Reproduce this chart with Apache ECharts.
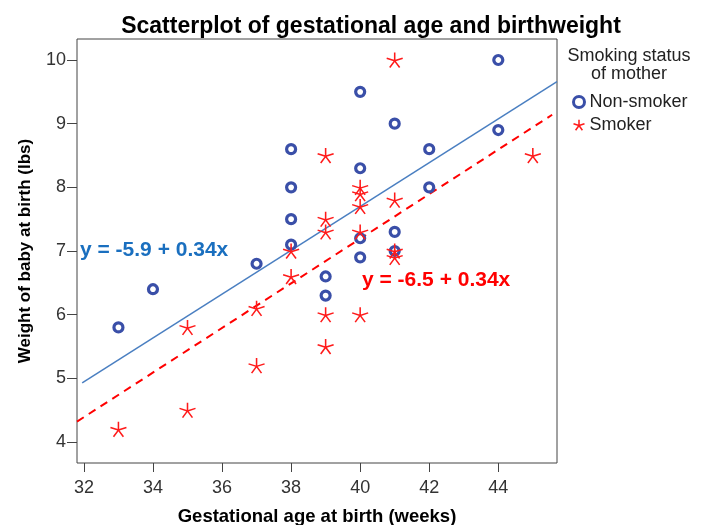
<!DOCTYPE html>
<html>
<head>
<meta charset="utf-8">
<script src="https://cdn.jsdelivr.net/npm/echarts@6/dist/echarts.min.js"></script>
<style>
  html, body { margin: 0; padding: 0; background: #fff; }
  #chart { width: 708px; height: 525px; }
</style>
</head>
<body>
<div id="chart"></div>
<script>
// data: [weeks, lbs]
var nonSmoker = [
  [33, 5.8], [34, 6.4], [37, 6.8], [38, 7.1], [38, 7.5], [38, 8.0], [38, 8.6],
  [39, 6.6], [39, 6.3], [40, 9.5], [40, 8.3], [40, 7.2], [40, 6.9],
  [41, 9.0], [41, 7.3], [41, 7.0], [42, 8.6], [42, 8.0], [44, 10.0], [44, 8.9]
]
var smoker = [
  [33, 4.2], [35, 5.8], [35, 4.5], [37, 6.1], [37, 5.2], [38, 7.0], [38, 6.6],
  [39, 8.5], [39, 7.5], [39, 7.3], [39, 6.0], [39, 5.5],
  [40, 8.0], [40, 7.9], [40, 7.7], [40, 7.3], [40, 6.0],
  [41, 10.0], [41, 7.8], [41, 7.0], [41, 6.9], [45, 8.5]
]
// fit lines, end points as drawn
var fitNonSmoker = [[31.95, 4.93], [45.7, 9.66]]
var fitSmoker = [[31.8, 4.32], [45.56, 9.14]]
var xTicks = [32, 34, 36, 38, 40, 42, 44]
var yTicks = [4, 5, 6, 7, 8, 9, 10]

var starPath = 'path://M0,0L0,-10M0,0L9.51,-3.09M0,0L5.88,8.09M0,0L-5.88,8.09M0,0L-9.51,-3.09'
var font = 'Liberation Sans, Arial, sans-serif'
var blueDot = '#3a4fa8'
var redStar = '#ff1a1a'

var chart = echarts.init(document.getElementById('chart'))
var option = {
  animation: false,
  title: {
    text: 'Scatterplot of gestational age and birthweight',
    left: 366,
    textAlign: 'center',
    top: 10,
    textStyle: { fontFamily: font, fontSize: 23, fontWeight: 'bold', color: '#000' }
  },
  legend: {
    orient: 'vertical',
    left: 571,
    top: 93,
    padding: 0,
    itemWidth: 11,
    itemHeight: 11,
    itemGap: 5,
    textStyle: { fontFamily: font, fontSize: 18, color: '#222' },
    data: [
      { name: 'Non-smoker', icon: 'circle', itemStyle: { color: '#fff', borderColor: blueDot, borderWidth: 3 } },
      { name: 'Smoker', icon: starPath, itemStyle: { color: 'none', borderColor: redStar, borderWidth: 1.5 } }
    ]
  },
  graphic: [
    {
      type: 'text', x: 629, y: 47,
      style: {
        text: 'Smoking status\nof mother', font: '18px ' + font, fill: '#222',
        lineHeight: 18, align: 'center', verticalAlign: 'top'
      }
    },
    {
      type: 'text', left: 80, top: 240,
      style: { text: 'y = -5.9 + 0.34x', font: 'bold 21px ' + font, fill: '#1a6fbf' }
    },
    {
      type: 'text', left: 362, top: 270,
      style: { text: 'y = -6.5 + 0.34x', font: 'bold 21px ' + font, fill: '#ff0000' }
    }
  ],
  grid: {
    left: 77, top: 39, right: 151, bottom: 62,
    outerBoundsMode: 'none',
    show: true, borderColor: '#444', borderWidth: 1
  },
  xAxis: {
    type: 'value',
    min: 31.8,
    max: 45.7,
    name: 'Gestational age at birth (weeks)',
    nameLocation: 'middle',
    nameGap: 44,
    nameTextStyle: { fontFamily: font, fontSize: 18.5, fontWeight: 'bold', color: '#000' },
    axisLine: { show: false },
    axisTick: { show: true, length: 9, customValues: xTicks, lineStyle: { color: '#444' } },
    axisLabel: { customValues: xTicks, fontFamily: font, fontSize: 18, color: '#333', margin: 16 },
    splitLine: { show: false }
  },
  yAxis: {
    type: 'value',
    min: 3.67,
    max: 10.33,
    name: 'Weight of baby at birth (lbs)',
    nameLocation: 'middle',
    nameGap: 43,
    nameTextStyle: { fontFamily: font, fontSize: 17, fontWeight: 'bold', color: '#000' },
    axisLine: { show: false },
    axisTick: { show: true, length: 10, customValues: yTicks, lineStyle: { color: '#444' } },
    axisLabel: { customValues: yTicks, fontFamily: font, fontSize: 18, color: '#333', margin: 11 },
    splitLine: { show: false }
  },
  series: [
    {
      name: 'fit non-smoker',
      type: 'line',
      data: fitNonSmoker,
      symbol: 'none',
      lineStyle: { color: '#4a7fc1', width: 1.5 },
      z: 1
    },
    {
      name: 'fit smoker',
      type: 'line',
      data: fitSmoker,
      symbol: 'none',
      lineStyle: { color: '#ff0000', width: 2, type: [8, 6] },
      z: 1
    },
    {
      name: 'Non-smoker',
      type: 'scatter',
      data: nonSmoker,
      symbol: 'circle',
      symbolSize: 9,
      itemStyle: { color: '#fff', borderColor: blueDot, borderWidth: 3.2, opacity: 1 },
      z: 3
    },
    {
      name: 'Smoker',
      type: 'scatter',
      data: smoker,
      symbol: starPath,
      symbolSize: [16, 15],
      itemStyle: { color: 'none', borderColor: redStar, borderWidth: 1.5, opacity: 1 },
      z: 4
    }
  ]
}
chart.setOption(option)
</script>
</body>
</html>
